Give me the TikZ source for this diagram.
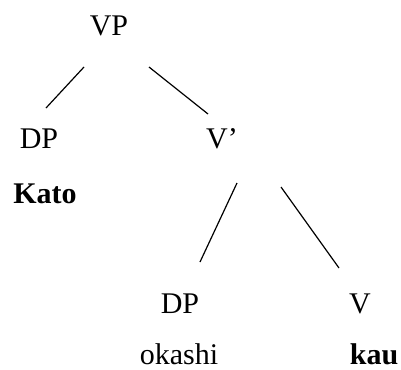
\documentclass[tikz,border=0pt]{standalone}
\usepackage{fontspec}
\setmainfont{Liberation Serif}
\usepackage{tikz}

\begin{document}
\begin{tikzpicture}[x=1pt,y=-1pt,
    lbl/.style={anchor=base,inner sep=0pt,font=\fontsize{30}{36}\selectfont},
    edge/.style={line width=1.2pt}]

    \useasboundingbox (0,0) rectangle (401,369);

    %%%%%%%%%%%%%%%%%%%%%%%%%%%%%%%%%%%%%%%%%%%%%%%%%%%%%%

    % top phrase
    \node[lbl] (vp) at (109,36) {VP};

    %%%%%%%%%%%%%%%%%%%%%%%%%%%%%%%%%%%%%%%%%%%%%%%%%%%%%%

    % subject
    \node[lbl] (dpa) at (39,148) {DP};
    \node[lbl,font=\fontsize{30}{36}\selectfont\bfseries] (kato) at (45,203) {Kato};
    \draw[edge] ([shift={(-25,31)}]vp.base) to ([shift={(7,-40)}]dpa.base);

    % bar level
    \node[lbl] (vbar) at (222,148) {V’};
    \draw[edge] ([shift={(40,31)}]vp.base) to ([shift={(-14,-34)}]vbar.base);

    %%%%%%%%%%%%%%%%%%%%%%%%%%%%%%%%%%%%%%%%%%%%%%%%%%%%%%

    % object
    \node[lbl] (dpb) at (180,313) {DP};
    \node[lbl] (okashi) at (179,364) {okashi};
    \draw[edge] ([shift={(15,35)}]vbar.base) to ([shift={(20,-51)}]dpb.base);

    % verb
    \node[lbl] (v) at (360,313) {V};
    \node[lbl,font=\fontsize{30}{36}\selectfont\bfseries] (kau) at (374,364) {kau};
    \draw[edge] ([shift={(59,39)}]vbar.base) to ([shift={(-21,-45)}]v.base);

\end{tikzpicture}
\end{document}
